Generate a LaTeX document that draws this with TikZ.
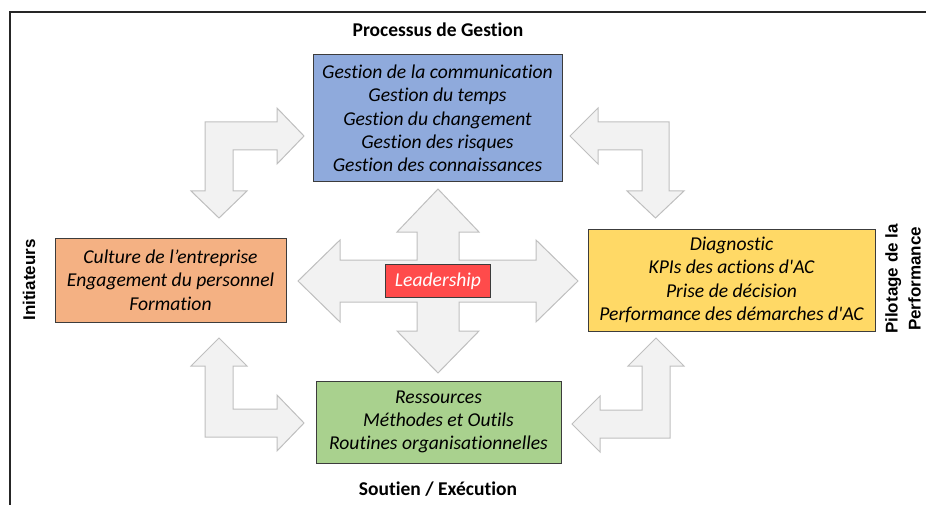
\documentclass[tikz,border=0pt]{standalone}
\usepackage{fontspec}
\setmainfont{Carlito}[Ligatures=NoCommon]
\newfontfamily\labelfont{Liberation Sans}

\definecolor{procblue}{RGB}{143,170,220}
\definecolor{initorange}{RGB}{244,177,131}
\definecolor{pilotyellow}{RGB}{255,217,102}
\definecolor{soutgreen}{RGB}{169,209,142}
\definecolor{leadred}{RGB}{255,75,75}
\definecolor{arrowfill}{RGB}{242,242,242}
\definecolor{arrowline}{RGB}{191,191,191}
\definecolor{boxline}{RGB}{60,60,60}

\begin{document}
\begin{tikzpicture}[x=1pt, y=-1pt,
		box/.style={draw=boxline, line width=1pt, align=center, inner sep=0pt,
			font=\itshape\fontsize{19.6}{23.3}\selectfont},
		title/.style={font=\bfseries\fontsize{19.5}{23}\selectfont},
		sidetitle/.style={font=\labelfont\bfseries\fontsize{17}{23}\selectfont, rotate=90, align=center},
		blockarrow/.style={fill=arrowfill, draw=arrowline, line width=1pt}]
			\useasboundingbox (0,0) rectangle (926,505);
			\draw[line width=1.5pt, black!85] (10,505) -- (10,12) -- (926,12);

			% bent arrows between the boxes
			\draw[blockarrow] (205,122) -- (277,122) -- (277,108) -- (304,136) -- (277,164) -- (277,150)
				-- (233,150) -- (233,191) -- (247,191) -- (219,218) -- (191,191) -- (205,191) -- cycle;
			\draw[blockarrow] (669,122) -- (598,122) -- (598,108) -- (570,136) -- (598,164) -- (598,150)
				-- (642,150) -- (642,191) -- (627,191) -- (655.5,218) -- (684,191) -- (669,191) -- cycle;
			\draw[blockarrow] (205,437) -- (205,366) -- (191,366) -- (219,338) -- (247,366) -- (233,366)
				-- (233,409) -- (277,409) -- (277,395) -- (304,423) -- (277,451) -- (277,437) -- cycle;
			\draw[blockarrow] (670,438) -- (670,366) -- (684,366) -- (656,338) -- (628,366) -- (642,366)
				-- (642,410) -- (600,410) -- (600,396) -- (572,424) -- (600,452) -- (600,438) -- cycle;

			% four-way arrow
			\draw[blockarrow] (417,260) -- (417,232) -- (397,232) -- (438,189) -- (479,232) -- (459,232)
				-- (459,260) -- (536,260) -- (536,240) -- (578,281) -- (536,322) -- (536,302)
				-- (459,302) -- (459,331) -- (479,331) -- (438,373) -- (397,331) -- (417,331)
				-- (417,302) -- (340,302) -- (340,322) -- (298,281) -- (340,240) -- (340,260) -- cycle;

			\node[box, fill=procblue, minimum width=249pt, minimum height=127pt] (procbox) at (437.5,118.5)
				{Gestion de la communication\\Gestion du temps\\Gestion du changement\\Gestion des risques\\Gestion des connaissances};
			\node[box, fill=initorange, minimum width=231pt, minimum height=84pt] (initbox) at (170.5,280)
				{Culture de l’entreprise\\Engagement du personnel\\Formation};
			\node[box, fill=pilotyellow, minimum width=287pt, minimum height=102pt] (pilotbox) at (731.5,280)
				{Diagnostic\\KPIs des actions d\textquotesingle AC\\Prise de décision\\Performance des démarches d\textquotesingle AC};
			\node[box, fill=soutgreen, minimum width=245pt, minimum height=82pt] (soutbox) at (438.5,422)
				{Ressources\\Méthodes et Outils\\Routines organisationnelles};
			\node[box, fill=leadred, text=white, minimum width=105pt, minimum height=33pt] (leader) at (438,281)
				{Leadership};

			\node[title] (proctitle) at (438,30) {Processus de Gestion};
			\node[title] (souttitle) at (438,489) {Soutien / Exécution};
			\node[sidetitle] (inittitle) at (29,280) {Initiateurs};
			\node[sidetitle] (pilottitle) at (903,279) {Pilotage de la\\Performance};
		\end{tikzpicture}
\end{document}
